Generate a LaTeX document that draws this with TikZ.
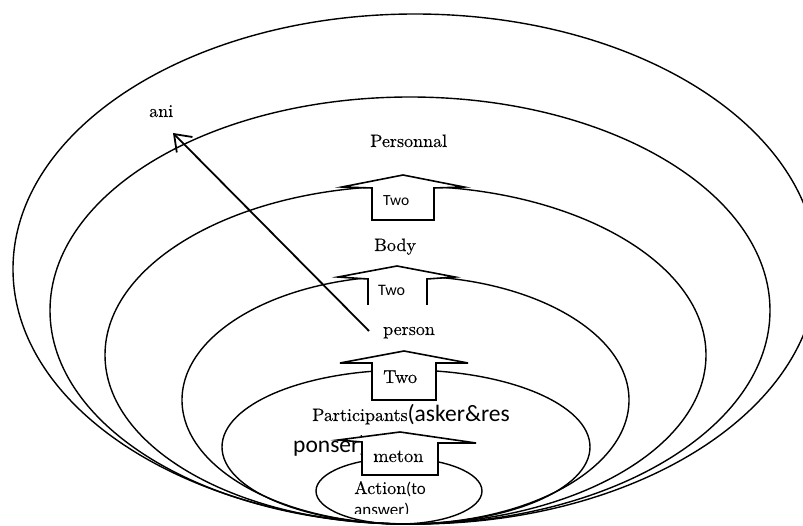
\documentclass[tikz,border=0pt]{standalone}
\usepackage{fontspec}
\newfontfamily\carl{Carlito}
\newfontfamily\serifb{lmroman10-regular}[Extension=.otf, FakeBold=0.3]
\usetikzlibrary{arrows.meta,shapes.geometric}
\begin{document}
\begin{tikzpicture}[x=1pt,y=-1pt,
  ring/.style={draw, line width=1.4pt, ellipse, inner sep=0pt, outer sep=0pt},
  blk/.style={draw, line width=1.6pt, fill=white, line join=miter},
  lbl/.style={inner sep=0pt, anchor=base west, font=\serifb\fontsize{18}{21}\selectfont},
  slbl/.style={inner sep=0pt, anchor=base west, font=\carl\fontsize{16}{19}\selectfont}]
\useasboundingbox (0,0) rectangle (803,526);
\clip (0,0) rectangle (803,526);
\fill[white] (0,0) rectangle (803,526);
% nested ellipses, tangent at the bottom
\node[ring, minimum width=804pt, minimum height=510pt] (e1) at (415,269) {};
\node[ring, minimum width=720pt, minimum height=427pt] (e2) at (410,310.5) {};
\node[ring, minimum width=601pt, minimum height=338pt] (e3) at (405.5,355) {};
\node[ring, minimum width=447pt, minimum height=248pt] (e4) at (405.5,400) {};
\node[ring, minimum width=368pt, minimum height=154pt] (e5) at (406,447) {};
\node[ring, minimum width=166pt, minimum height=66pt] (e6) at (399,491) {};
% texts under the block arrows
\node[lbl] (part) at (312,421) {Participants{\carl\fontsize{23.5}{26}\selectfont(asker\&res}};
\node[slbl, font=\carl\fontsize{23.5}{26}\selectfont] (ponser) at (293,452) {ponser)};
\node[lbl] (action) at (354,494) {Action{\carl\fontsize{17}{20}\selectfont(to}};
\begin{scope}
\clip (300,400) rectangle (500,513);
\node[slbl, font=\carl\fontsize{17}{20}\selectfont] (answer) at (354,515) {answer)};
\end{scope}
% block arrows
\draw[blk] (403,175) -- (342,187) -- (372,188) -- (372,220) -- (434,220) -- (434,188) -- (464,187) -- cycle;
\fill[white] (397,266) -- (338,277) -- (368,279) -- (368,305) -- (427,305) -- (427,279) -- (455,277) -- cycle;
\draw[blk, fill=none] (368,305) -- (368,279) -- (338,277) -- (397,266) -- (455,277) -- (427,279) -- (427,305);
\draw[blk] (404,351) -- (340,363) -- (372,363) -- (372,400) -- (436,400) -- (436,363) -- (468,363) -- cycle;
\draw[blk] (400,432) -- (338,440) -- (362,442) -- (362,475) -- (438,475) -- (438,443) -- (476,443) -- cycle;
% labels
\node[slbl, font=\carl\fontsize{15.5}{18}\selectfont] (twoa) at (383,206) {Two};
\node[slbl] (twob) at (378,296) {Two};
\node[lbl, font=\serifb\fontsize{18.5}{21}\selectfont] (twoc) at (383,383) {Two};
\node[lbl, font=\serifb\fontsize{18.5}{21}\selectfont] (meton) at (373,462) {meton};
\node[lbl] (ani) at (149,117) {ani};
\node[lbl] (personnal) at (370,147) {Personnal};
\node[lbl] (body) at (374,251) {Body};
\node[lbl] (person) at (383,335) {person};
% arrow to ani
\coordinate (pstart) at (369,331);
\coordinate (anitip) at (173,133);
\draw[line width=1.8pt, -{Straight Barb[length=15pt,width=22pt]}] (pstart) -- (anitip);
\end{tikzpicture}
\end{document}
